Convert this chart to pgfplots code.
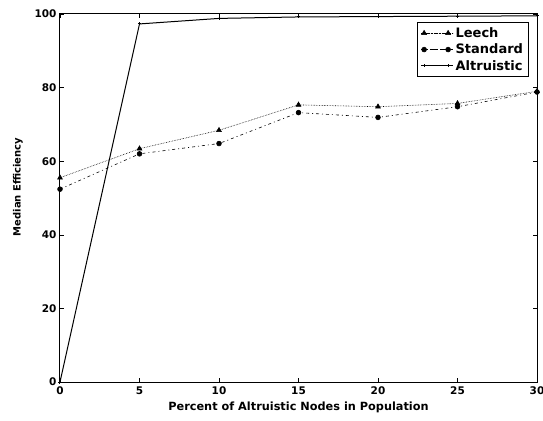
\documentclass[border=0pt]{standalone}
\usepackage{fontspec}
\setmainfont{DejaVu Sans}
\usepackage{pgfplots}
\pgfplotsset{compat=1.18}

\begin{document}
\begin{tikzpicture}
\begin{axis}[
    name=main,
    scale only axis,
    width=477pt,
    height=368pt,
    xmin=0, xmax=30,
    ymin=0, ymax=100,
    xtick={0,5,10,15,20,25,30},
    ytick={0,20,40,60,80,100},
    tick align=inside,
    tick style={black, line width=0.5pt},
    major tick length=4pt,
    axis line style={black, line width=1pt},
    xlabel={Percent of Altruistic Nodes in Population},
    ylabel={Median Efficiency},
    xlabel style={font=\bfseries\fontsize{11.3}{12}\selectfont,
        at={(rel axis cs:0.5,-0.068)}, anchor=center},
    ylabel style={font=\bfseries\fontsize{10}{11}\selectfont,
        at={(rel axis cs:-0.088,0.53)}, anchor=center},
    tick label style={font=\bfseries\fontsize{10.5}{11}\selectfont},
    /pgf/number format/assume math mode=true,
    xticklabel style={yshift=-1pt},
    legend style={
        at={(0.982,0.978)}, anchor=north east,
        font=\bfseries\fontsize{13}{14}\selectfont,
        draw=black, line width=0.8pt,
        inner sep=3pt, row sep=1pt,
        legend cell align=left
    },
    legend image code/.code={
        \path (-3pt,0pt) -- (29pt,0pt);
        \draw[mark repeat=1, mark phase=1, #1]
            plot coordinates {(0pt,0pt) (24pt,0pt)};
    },
    clip=false,
]
\addplot[black, densely dotted, semithick, mark=triangle*, mark size=2.8pt, mark options={solid}]
coordinates {
    (0,55.5) (5,63.4) (10,68.4) (15,75.3) (20,74.8) (25,75.7) (30,79.0)
};
\addlegendentry{Leech}

\addplot[black, semithick, dash pattern=on 3pt off 3pt on 1pt off 3pt, mark=*, mark size=2.4pt, mark options={solid}]
coordinates {
    (0,52.4) (5,62.0) (10,64.8) (15,73.2) (20,71.9) (25,74.8) (30,78.8)
};
\addlegendentry{Standard}

\addplot[black, line width=1pt, mark=+, mark size=1.5pt]
coordinates {
    (0,0) (5,97.3) (10,98.8) (15,99.2) (20,99.3) (25,99.4) (30,99.5)
};
\addlegendentry{Altruistic}
\end{axis}
\pgfresetboundingbox
\path (main.south west) ++(-60pt,-38pt) rectangle ([shift={(6pt,14pt)}]main.north east);
\end{tikzpicture}
\end{document}
